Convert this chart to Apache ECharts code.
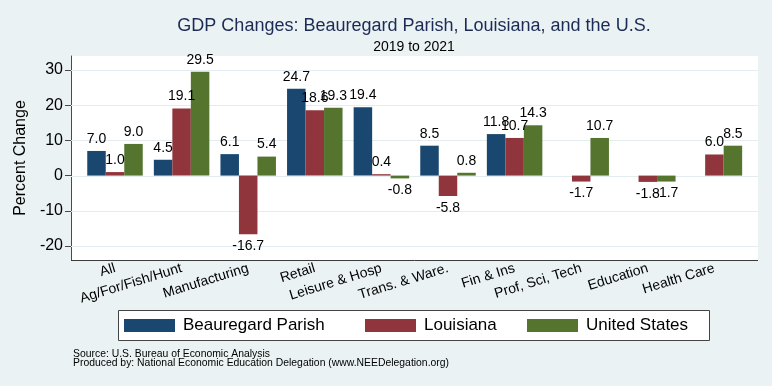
<!DOCTYPE html>
<html>
<head>
<meta charset="utf-8">
<script src="https://cdn.jsdelivr.net/npm/echarts@6/dist/echarts.min.js"></script>
<style>
html,body{margin:0;padding:0;background:#eaf2f3;}
#chart{width:772px;height:386px;}
</style>
</head>
<body>
<div id="chart"></div>
<script>
const categories = ['All', 'Ag/For/Fish/Hunt', 'Manufacturing', 'Retail', 'Leisure & Hosp', 'Trans. & Ware.', 'Fin & Ins', 'Prof, Sci, Tech', 'Education', 'Health Care'];
const beauregard = [7.0, 4.5, 6.1, 24.7, 19.4, 8.5, 11.8, null, null, null];
const louisiana = [1.0, 19.1, -16.7, 18.6, 0.4, -5.8, 10.7, -1.7, -1.8, 6.0];
const unitedStates = [9.0, 29.5, 5.4, 19.3, -0.8, 0.8, 14.3, 10.7, -1.7, 8.5];
const yTicks = [-20, -10, 0, 10, 20, 30];
const seriesNames = ['Beauregard Parish', 'Louisiana', 'United States'];
const seriesColors = ['#1a476f', '#90353b', '#55752f'];

const FONT = '"Liberation Sans", Arial, Helvetica, sans-serif';
const chart = echarts.init(document.getElementById('chart'), null, {renderer: 'canvas'});

function toData(arr) {
  return arr.map(v => v === null ? '-' : {
    value: v,
    label: {position: v < 0 ? 'bottom' : 'top'}
  });
}

const PLOT_L = 71, PLOT_R = 758, GRID_TOP = 56, GRID_H = 204;

const option = {
  backgroundColor: '#eaf2f3',
  animation: false,
  title: [
    {text: 'GDP Changes: Beauregard Parish, Louisiana, and the U.S.', left: 414, top: 17, padding: 0, textAlign: 'center',
     textStyle: {fontFamily: FONT, fontSize: 18, fontWeight: 'normal', color: '#1c2b56'}},
    {text: '2019 to 2021', left: 414, top: 40, padding: 0, textAlign: 'center',
     textStyle: {fontFamily: FONT, fontSize: 14, fontWeight: 'normal', color: '#000'}}
  ],
  legend: seriesNames.map((n, i) => ({
    data: [n],
    left: [124, 365, 527][i],
    top: 317,
    padding: 0,
    icon: 'rect',
    itemWidth: 51,
    itemHeight: 13,
    selectedMode: false,
    textStyle: {fontFamily: FONT, fontSize: 17, color: '#000', padding: [0, 0, 0, 3]}
  })),
  grid: {left: 81.7, right: 24.3, top: GRID_TOP, height: GRID_H, containLabel: false},
  xAxis: {
    type: 'category',
    data: categories,
    axisLine: {show: false},
    axisTick: {show: false},
    axisLabel: {rotate: 17, margin: 8, interval: 0, fontFamily: FONT, fontSize: 14, color: '#000'}
  },
  yAxis: {
    type: 'value',
    min: -24,
    max: 34,
    offset: 10.7,
    name: 'Percent Change',
    nameLocation: 'middle',
    nameGap: 33,
    nameTextStyle: {fontFamily: FONT, fontSize: 16, color: '#000'},
    axisLine: {show: true, lineStyle: {color: '#4a4a4a', width: 1}},
    axisTick: {show: true, length: 6, lineStyle: {color: '#4a4a4a'}, customValues: yTicks},
    axisLabel: {margin: 8, fontFamily: FONT, fontSize: 16, color: '#000', customValues: yTicks},
    splitLine: {show: false}
  },
  series: [beauregard, louisiana, unitedStates].map((arr, i) => ({
    name: seriesNames[i],
    type: 'bar',
    z: 3,
    data: toData(arr),
    barWidth: 18.5,
    barGap: '0%',
    itemStyle: {color: seriesColors[i]},
    label: {show: true, distance: 5, fontFamily: FONT, fontSize: 14, color: '#000',
            formatter: p => Number(p.value).toFixed(1)}
  }))
};

chart.setOption(option);

function yPix(v) {
  let p = chart.convertToPixel({gridIndex: 0}, [0, v]);
  let y = Array.isArray(p) ? p[1] : NaN;
  if (!isFinite(y)) {
    y = GRID_TOP + (34 - v) / 58 * GRID_H;
  }
  return y;
}

// Plot-region decorations (background, grid lines, x axis line, legend box), positioned via the axis scale
const yTop = yPix(34);
const yBot = yPix(-24);
const graphics = [];
graphics.push({type: 'rect', z: 0, silent: true,
  shape: {x: PLOT_L, y: yTop, width: PLOT_R - PLOT_L, height: yBot - yTop},
  style: {fill: '#ffffff', stroke: null}});
yTicks.forEach(v => {
  const y = Math.round(yPix(v)) + 0.5;
  graphics.push({type: 'line', z: 1, silent: true,
    shape: {x1: PLOT_L, y1: y, x2: PLOT_R, y2: y},
    style: {stroke: '#e3ecee', lineWidth: 1}});
});
graphics.push({type: 'line', z: 4, silent: true,
  shape: {x1: PLOT_L, y1: Math.round(yBot) + 0.5, x2: PLOT_R, y2: Math.round(yBot) + 0.5},
  style: {stroke: '#3a3a3a', lineWidth: 1}});
graphics.push({type: 'rect', z: 0, silent: true,
  shape: {x: 118.5, y: 310.5, width: 591, height: 30},
  style: {fill: '#ffffff', stroke: '#444444', lineWidth: 1}});
graphics.push({type: 'text', silent: true, x: 73, y: 349,
  style: {text: 'Source: U.S. Bureau of Economic Analysis', font: '10.4px ' + FONT, fill: '#000'}});
graphics.push({type: 'text', silent: true, x: 73, y: 358,
  style: {text: 'Produced by: National Economic Education Delegation (www.NEEDelegation.org)', font: '10.4px ' + FONT, fill: '#000'}});
chart.setOption({graphic: {elements: graphics}});
</script>
</body>
</html>
